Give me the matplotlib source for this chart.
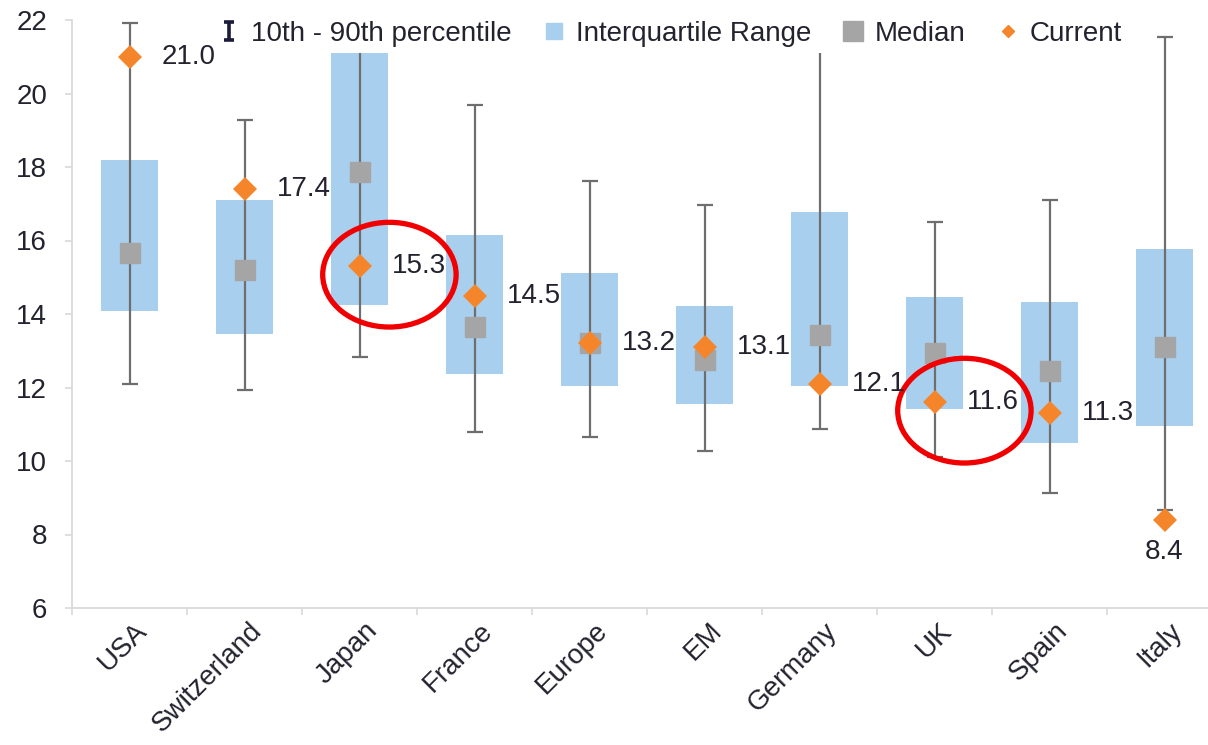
import numpy as np
import matplotlib
matplotlib.use('Agg')
import matplotlib.pyplot as plt
from matplotlib.lines import Line2D
from matplotlib.patches import Ellipse
from matplotlib.path import Path
from matplotlib.transforms import ScaledTranslation, blended_transform_factory

plt.rcParams['font.family'] = ['Liberation Sans', 'DejaVu Sans']

# data
cats = ['USA', 'Switzerland', 'Japan', 'France', 'Europe', 'EM', 'Germany', 'UK', 'Spain', 'Italy']
p10 = [12.1, 11.93, 12.83, 10.8, 10.66, 10.28, 10.86, 10.1, 9.12, 8.67]
p90 = [21.93, 19.28, 22.3, 19.69, 17.63, 16.97, 21.3, 16.51, 17.1, 21.54]
q1 = [14.09, 13.45, 14.24, 12.37, 12.05, 11.54, 12.05, 11.41, 10.5, 10.95]
q3 = [18.2, 17.1, 21.23, 16.15, 15.12, 14.22, 16.78, 14.47, 14.33, 15.76]
median = [15.65, 15.2, 17.86, 13.65, 13.2, 12.75, 13.43, 12.95, 12.46, 13.11]
current = [21.0, 17.4, 15.3, 14.5, 13.2, 13.1, 12.1, 11.6, 11.3, 8.4]
highlight = ['Japan', 'UK']
yticks = [6, 8, 10, 12, 14, 16, 18, 20, 22]
legend_labels = ['10th - 90th percentile', 'Interquartile Range', 'Median', 'Current']

text_col = '#23232f'
blue = '#A9CFEE'
grey = '#A5A5A5'
orange = '#F5852A'
axis_col = '#D9D9D9'
fs = 20

fig = plt.figure(figsize=(12.08, 7.45), dpi=100)
ax = fig.add_axes([72/1208, 1 - 608/745, 1150/1208, 588/745])

xs = np.arange(len(cats))
p10 = np.array(p10)
p90 = np.array(p90)
med = np.array(median)

ax.bar(xs, np.array(q3) - np.array(q1), bottom=q1, width=0.5, color=blue, zorder=1)
ax.errorbar(xs, med, yerr=[med - p10, p90 - med], fmt='none', ecolor='#6E6E6E',
            elinewidth=1.6, capsize=5.5, capthick=1.6, zorder=2)
ax.plot(xs, med, 's', ms=14, color=grey, zorder=3)
ax.plot(xs, current, 'D', ms=12.5, color=orange, mew=0, zorder=4)

for i, v in enumerate(current):
    if v < p10[i]:
        ax.annotate('%.1f' % v, (xs[i], v), xytext=(0, -23), textcoords='offset points',
                    ha='center', va='center', fontsize=fs, color=text_col, zorder=12)
    else:
        ax.annotate('%.1f' % v, (xs[i], v), xytext=(23, 0), textcoords='offset points',
                    ha='left', va='center', fontsize=fs, color=text_col, zorder=12)

# red circles round the highlighted markets
for c in highlight:
    i = cats.index(c)
    ax.add_patch(Ellipse((xs[i] + 0.26, current[i] - 0.23), 1.16, 2.85, fill=False,
                         ec='#F00000', lw=3.8, zorder=6))

ax.set_xlim(-0.5, 9.5)
ax.set_ylim(6, 22)
ax.set_yticks(yticks)
ax.set_xticks(xs)
ax.set_xticklabels([])
ax.set_xticks(np.append(xs - 0.5, xs[-1] + 0.5), minor=True)

# category labels, slanted, drawn as text so they can be nudged
trans = blended_transform_factory(ax.transData, ax.transAxes) + \
    ScaledTranslation(0.14, -0.19, fig.dpi_scale_trans)
for i, c in enumerate(cats):
    ax.text(xs[i], 0, c, transform=trans, rotation=45, ha='right', va='center',
            rotation_mode='anchor', fontsize=fs, color=text_col, clip_on=False)

for s in ['top', 'right']:
    ax.spines[s].set_visible(False)
for s in ['left', 'bottom']:
    ax.spines[s].set_color(axis_col)
    ax.spines[s].set_linewidth(1.3)

ax.tick_params(axis='y', length=5, width=1.2, color=axis_col, labelsize=fs, labelcolor=text_col, pad=13)
ax.tick_params(axis='x', which='major', length=0)
ax.tick_params(axis='x', which='minor', length=5, width=1.2, color=axis_col)

# I-beam symbol for the percentile whiskers in the legend
ibeam = Path([(-0.5, 1), (0.5, 1), (0, 1), (0, -1), (-0.5, -1), (0.5, -1)],
             [Path.MOVETO, Path.LINETO, Path.MOVETO, Path.LINETO, Path.MOVETO, Path.LINETO])
handles = [
    Line2D([], [], marker=ibeam, color='#1B1B3A', mec='#1B1B3A', mew=2.6, ls='none', ms=13),
    Line2D([], [], marker='s', color=blue, ls='none', ms=11),
    Line2D([], [], marker='s', color=grey, ls='none', ms=14),
    Line2D([], [], marker='D', color=orange, ls='none', ms=6),
]
leg = ax.legend(handles, legend_labels, ncol=4, loc='center', bbox_to_anchor=(0.52, 0.976),
                frameon=True, facecolor='white', edgecolor='none', framealpha=1,
                handlelength=0.8, handletextpad=0.4, columnspacing=1.1, borderpad=0.2,
                fontsize=fs, labelcolor=text_col)
leg.set_zorder(10)

fig.savefig('out.png', dpi=100)
